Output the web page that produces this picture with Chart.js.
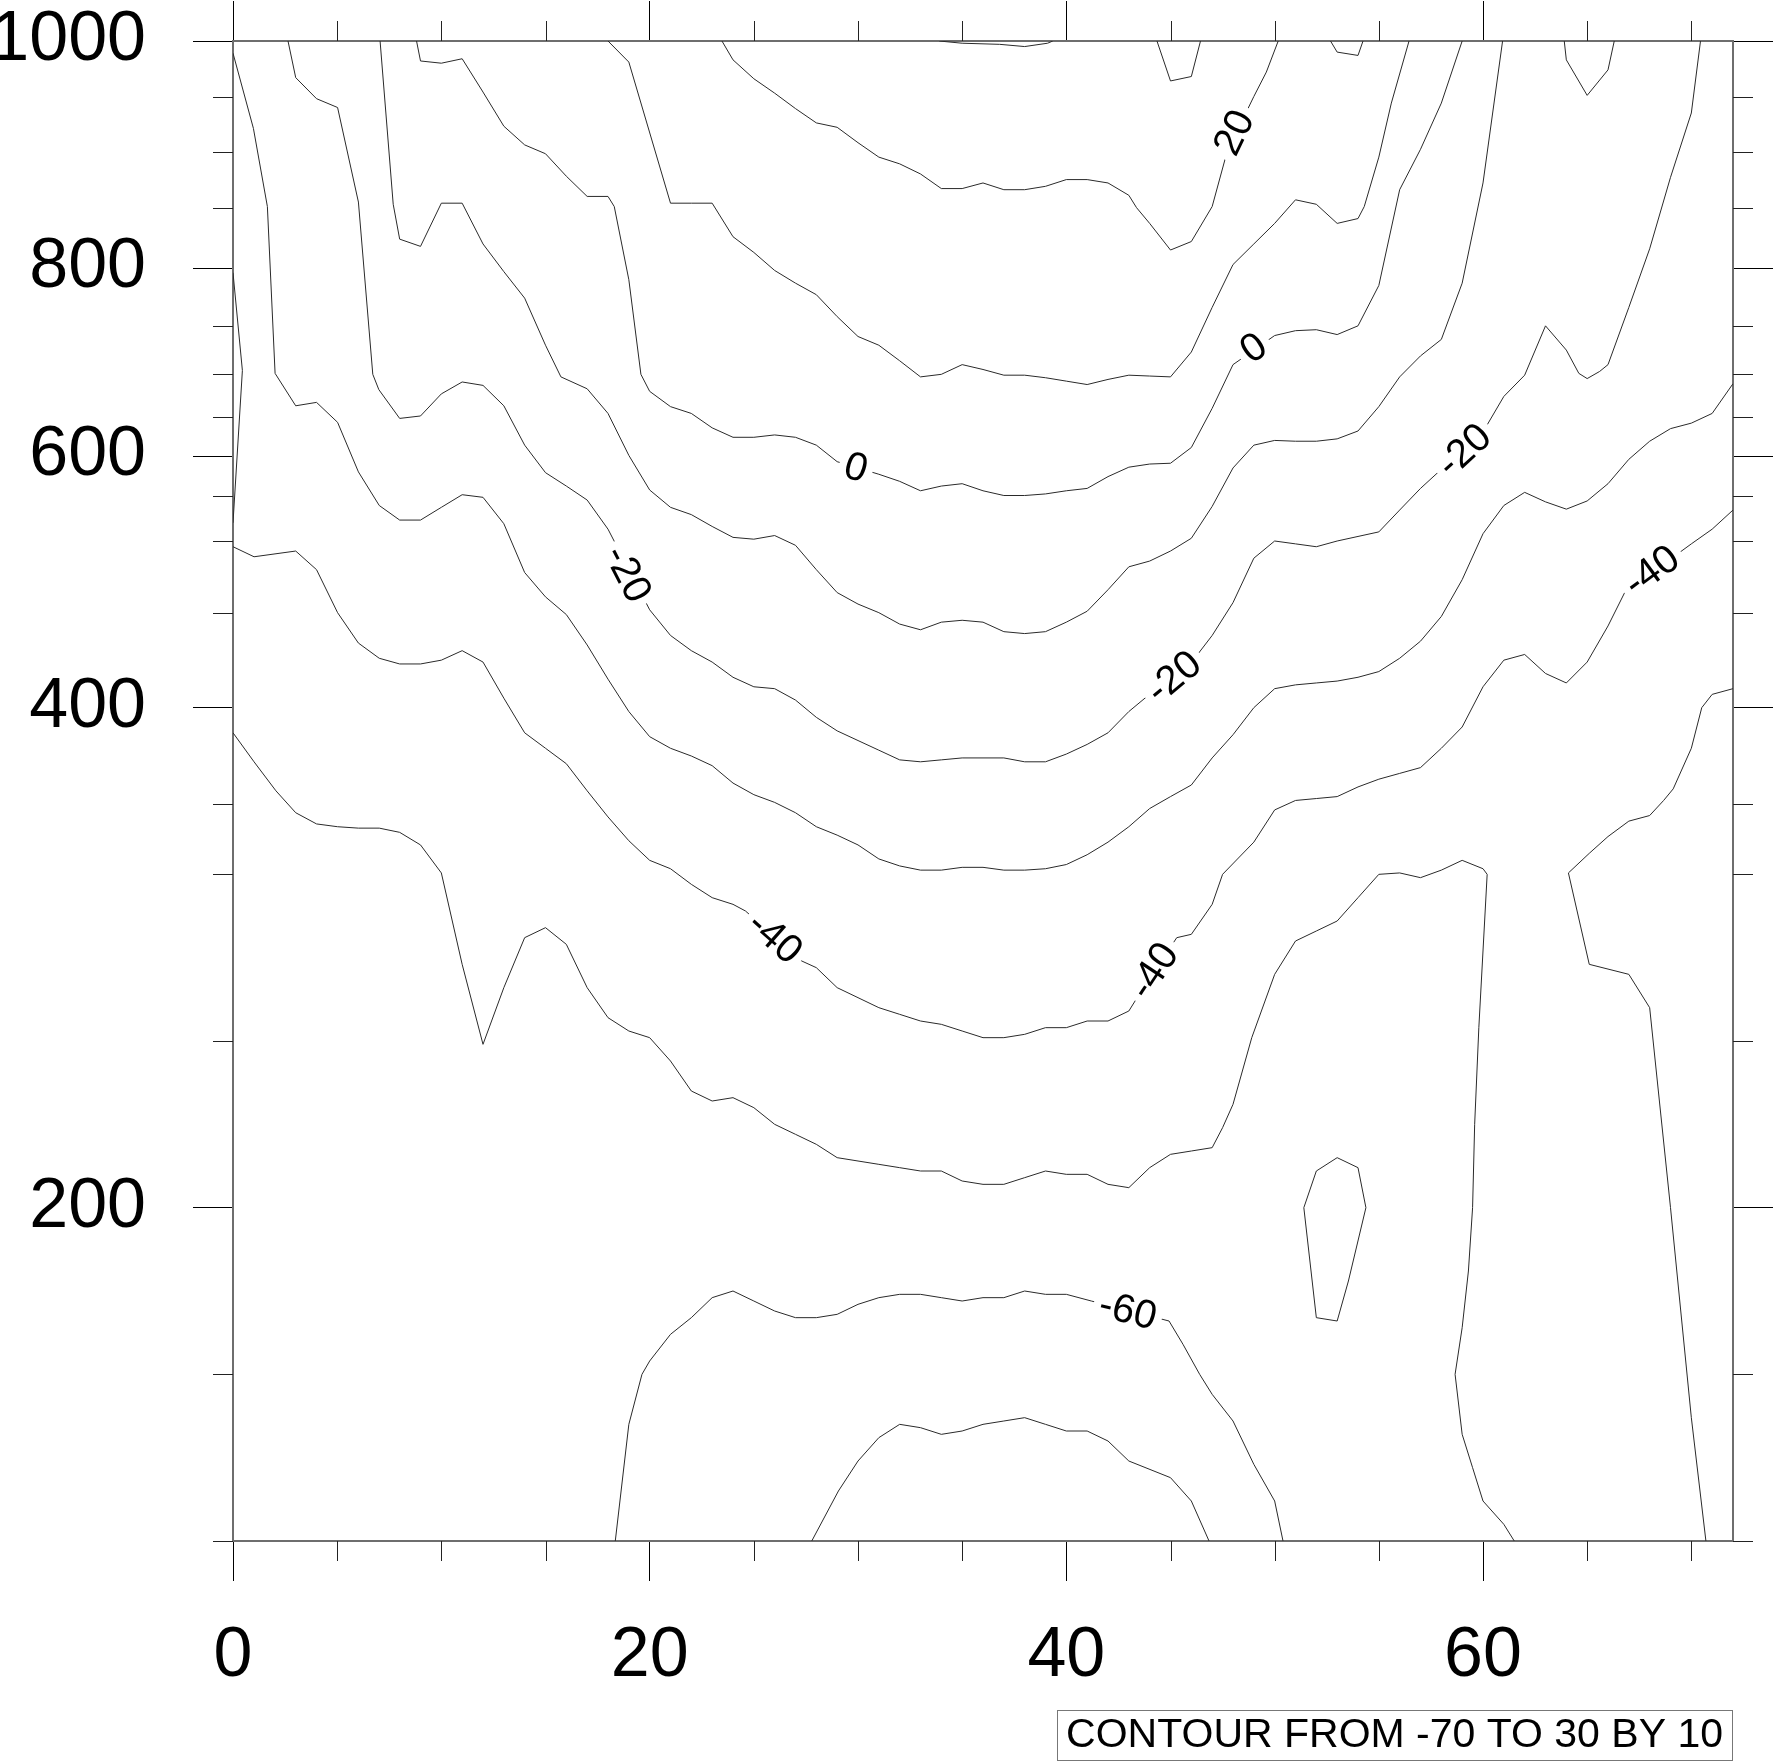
<!DOCTYPE html>
<html>
<head>
<meta charset="utf-8">
<script src="https://cdn.jsdelivr.net/npm/chart.js@4.4.1/dist/chart.umd.min.js"></script>
<style>html,body{margin:0;padding:0;background:#fff}canvas{display:block}</style>
</head>
<body>
<canvas id="c" width="1774" height="1763"></canvas>
<script>
// ---------------- axis definitions ----------------
const xTickValues = [0,5,10,15,20,25,30,35,40,45,50,55,60,65,70];
const xLabelValues = [0,20,40,60];
const xMin = 0, xMax = 72;
const pTickValues = [1000,950,900,850,800,750,700,650,600,550,500,450,400,350,300,250,200,150,100];
const pLabelValues = [1000,800,600,400,200];
// irregular pressure axis: position of each pressure in data-level index units (levels 1000,850,700,500,400,300,250,200,150,100)
const axisPressure = [1000,950,900,850,800,750,700,650,600,550,500,450,400,350,300,250,200,150,100];
const axisLevelIndex = [0,0.333,0.663,1,1.363,1.709,2,2.255,2.491,2.727,3,3.43,4,4.58,5,6,7,8,9];
const contourMin = -70, contourMax = 30, contourStep = 10;

// ---------------- contour lines (x, pressure hPa) ----------------
const t30x = [33.9,35,36.8,38,39.1,39.35];
const t30p = [1000,998,997,995,998,1000];

const t20x = [23.47,24,25,26,27,28,29,30,31,32,33,34,35,36,37,38,39,40,41,42,43,43.37,44,45,46,47,47.72,49,49.6,50.17];
const t20p = [1000,983,966,953,939,926,922,908,895,889,880,867,867,872,866,866,869,875,875,872,861,850,837,815,822,851,900,950,972,1000];
const t20bx = [44.35,45,46,46.44];
const t20bp = [1000,964,968,1000];

const t10x = [18,19,21,22,23,24,25,26,27,28,29,30,31,32,33,34,35,36,37,38,39,40,41,42,43,44,45,46,47,48,49,50,51,52,53,54,54.3,55,55.6,56.45];
const t10p = [1000,981,854,854,854,826,813,798,787,777,758,739,730,714,697,700,710,705,699,699,696,692,688,694,699,698,697,723,766,803,820,837,857,853,837,841,851,895,944,1000];
const t10bx = [52.68,53,54,54.24];
const t10bp = [1000,990,987,1000];

const t0x = [8.81,9,10,11,12,13,14,15,16,17,18,18.3,19,19.58,20,21,22,23,24,25,26,27,28,29,31,32,33,34,35,36,37,38,39,40,41,42,43,44,45,46,47,48,50,51,52,53,54,55,56,57,58,59];
const t0p = [1000,982,980,984,954,923,906,898,878,860,860,851,790,700,680,662,654,636,624,624,627,624,614,593,577,568,556,562,565,556,550,550,552,556,559,574,586,590,591,611,660,710,740,745,746,741,750,785,866,902,944,1000];

const tm10x = [7.06,7.69,8,9,10,11,12,13,14,15,15.74,17,18,19,20,21,22,23,24,25,26,27,28,29,30,31,32,33,34,35,36,37,38,39,40,41,42,43,44,45,46,47,48,49,50,51,52,53,54,55,56,57,58,59,60,60.94];
const tm10p = [1000,853,824,818,854,854,820,797,774,730,697,683,654,601,557,537,529,516,504,502,506,497,480,464,456,450,444,441,445,446,445,440,439,440,445,451,466,482,486,493,503,538,585,614,620,619,619,622,632,662,697,719,736,787,872,1000];

const tm20x = [2.64,3.01,4.01,5.02,6.02,6.71,7,8,9,10,11,12,13,14,15,16,17,18,20,21,22,23,24,25,26,27,28,29,30,31,32,33,34,35,36,37,38,39,40,41,42,43,46.3,47,48,49,50,51,52,53,54,55,56,57,60.05,61,62,63,64,64.6,65,65.6,66,67,68,69,70,70.44];
const tm20p = [1000,967,948,940,855,700,682,648,651,677,691,687,663,614,579,562,545,513,452,438,430,424,416,411,410,404,395,388,383,378,373,372,373,374,374,374,372,372,376,381,387,398,428,438,457,488,500,498,496,500,505,510,534,559,633,674,699,750,725,701,695,703,710,766,816,877,935,1000];
const tm20bx = [63.9,64,65,66,66.3];
const tm20bp = [1000,983,951,974,1000];

const tm30x = [0,0.98,1.65,2.02,3.01,4.01,5.02,6.02,7.02,8,9,10,11,12,13,14,15,16,17,18,19,20,21,22,23,24,25,26,27,28,29,30,31,32,33,34,35,36,37,38,39,40,41,42,43,44,45,46,47,48,49,50,51,52,53,54,55,56,57,58,59,60,61,62,63,64,65,66,67,68,69,70,71,72];
const tm30p = [989,921,851,701,663,667,643,580,539,523,523,537,551,548,519,478,461,449,433,415,398,385,379,375,370,361,355,351,344,334,328,321,311,306,303,303,305,305,303,303,304,307,314,323,334,347,354,360,374,386,400,410,412,413,414,416,419,426,435,448,473,508,539,554,543,535,544,565,596,619,635,642,654,689];

const tm40x = [0,1.01,3.01,4.01,5.02,6.02,7.02,8,9,10,11,12,13,14,15,16,17,18,19,20,21,22,23,24,24.6,27.3,28,29,30,31,32,33,34,35,36,37,38,39,40,41,42,43,43.4,45.3,46,47,47.5,49,50,51,52,53,54,55,56,57,58,59,60,61,62,63,64,65,66,66.8,70,71,72];
const tm40p = [496,489,493,480,450,434,426,423,423,425,430,424,405,387,379,371,357,341,324,310,304,297,293,291,289,274,272,266,263,260,258,256,255,253,251,251,252,254,254,256,256,259,263,281,282,291,300,323,346,352,353,354,359,363,366,369,379,390,411,425,428,418,413,424,443,464,498,513,534];
const tm40bx = [0,0.45,0];
const tm40bp = [796,704,520];

const tm50x = [0,1.01,2.06,3.01,4.01,5.02,6.02,7.02,8,9,10,11,12,13,14,15,16,17,18,19,20,21,22,23,24,25,26,27,28,29,30,31,32,33,34,35,36,37,38,39,40,41,42,43,44,45,46,47,47.5,48,48.9,50,51,52,53,54,55,56,57,58,59,60,60.2,59.8,59.6,59.5,59.3,59,58.66,59,59.5,60,61,61.5];
const tm50p = [387,372,357,344,336,334,333,333,330,321,301,273,249,266,281,284,279,266,257,253,251,244,235,232,233,230,225,222,219,215,214,213,212,211,211,208,207,207,209,211,210,210,207,206,212,216,217,218,224,231,251,270,280,283,286,293,300,301,299,303,310,304,300,254,225,200,181,164,150,132,122,112,105,100];
const tm50bx = [72,71,70.5,70,69.13,68.67,68,67,66,65.1,64.1,65.1,67,68,69,70,70.7];
const tm50bp = [410,407,400,379,358,352,342,338,327,315,301,273,270,260,200,137,100];
const tm50cx = [52,53,54,54.38,53.54,53,52,51.4,52];
const tm50cp = [211,215,212,200,178,166,167,200,211];

const tm60x = [18.35,19,19.63,20,21,22,23,24,25,26,27,28,29,30,31,32,33,34,35,36,37,38,39,40,41.2,44.93,45.6,46.4,47,48,49,50,50.4];
const tm60p = [100,135,150,154,162,167,173,175,172,169,167,167,168,171,173,174,174,173,172,173,173,175,174,174,172,166,159,150,144,136,123,112,100];

const tm70x = [27.78,29.06,30,31,32,33,34,35,36,37,38,39,40,41,42,43,45,46,46.85];
const tm70p = [100,115,124,131,135,134,132,133,135,136,137,135,133,133,130,124,119,112,100];

// ---------------- line labels ----------------
const labelLevels = [20,0,0,-20,-20,-20,-40,-40,-40,-60];
const labelX = [48.07,29.9,49.0,18.93,45.16,59.1,26.0,44.2,68.1,42.95];
const labelP = [917,585,727,477,416,607,281,271,479,169];

// ---------------- build ----------------
const contours = [
  {level:30, x:t30x, p:t30p},
  {level:20, x:t20x, p:t20p, main:true},
  {level:20, x:t20bx, p:t20bp},
  {level:10, x:t10x, p:t10p, main:true},
  {level:10, x:t10bx, p:t10bp},
  {level:0, x:t0x, p:t0p, main:true},
  {level:-10, x:tm10x, p:tm10p, main:true},
  {level:-20, x:tm20x, p:tm20p, main:true},
  {level:-20, x:tm20bx, p:tm20bp},
  {level:-30, x:tm30x, p:tm30p, main:true},
  {level:-40, x:tm40x, p:tm40p, main:true},
  {level:-40, x:tm40bx, p:tm40bp},
  {level:-50, x:tm50x, p:tm50p, main:true},
  {level:-50, x:tm50bx, p:tm50bp},
  {level:-50, x:tm50cx, p:tm50cp},
  {level:-60, x:tm60x, p:tm60p, main:true},
  {level:-70, x:tm70x, p:tm70p, main:true}
];

const FONT = '"Liberation Sans", Arial, Helvetica, sans-serif';
const maxLevelIndex = axisLevelIndex[axisLevelIndex.length - 1];

function pressureToIndex(p) {
  const n = axisPressure.length;
  let i = 0;
  if (p >= axisPressure[0]) i = 0;
  else if (p <= axisPressure[n - 1]) i = n - 2;
  else { while (i < n - 2 && p < axisPressure[i + 1]) i++; }
  const p0 = axisPressure[i], p1 = axisPressure[i + 1];
  const a0 = axisLevelIndex[i], a1 = axisLevelIndex[i + 1];
  return a0 + (p0 - p) / (p0 - p1) * (a1 - a0);
}
function indexToPressure(idx) {
  const n = axisLevelIndex.length;
  let i = 0;
  if (idx <= 0) i = 0;
  else if (idx >= axisLevelIndex[n - 1]) i = n - 2;
  else { while (i < n - 2 && idx > axisLevelIndex[i + 1]) i++; }
  const a0 = axisLevelIndex[i], a1 = axisLevelIndex[i + 1];
  const p0 = axisPressure[i], p1 = axisPressure[i + 1];
  return p0 + (idx - a0) / (a1 - a0) * (p1 - p0);
}

class PressureScale extends Chart.LinearScale {
  getPixelForValue(value) {
    if (value === null || value === undefined || isNaN(value)) return NaN;
    return this.top + pressureToIndex(value) / maxLevelIndex * (this.bottom - this.top);
  }
  getValueForPixel(pixel) {
    return indexToPressure((pixel - this.top) / (this.bottom - this.top) * maxLevelIndex);
  }
}
PressureScale.id = 'pressureAxis';
PressureScale.defaults = Chart.LinearScale.defaults;
Chart.register(PressureScale);

const datasets = contours.map(c => ({
  label: String(c.level),
  data: c.x.map((v, i) => ({x: v, y: c.p[i]})),
  showLine: true,
  pointRadius: 0,
  borderColor: '#2a2a2a',
  borderWidth: 1,
  tension: 0,
  fill: false,
  xAxisID: 'x',
  yAxisID: 'y'
}));

const frameBorder = {display: true, color: '#6e6e6e', width: 2};
const xGrid = {display: true, drawOnChartArea: false, drawTicks: true, tickLength: 40, tickWidth: 1,
  tickColor: ctx => (ctx.tick && xLabelValues.includes(ctx.tick.value)) ? '#000' : 'rgba(0,0,0,0)'};
const yGrid = {display: true, drawOnChartArea: false, drawTicks: true, tickLength: 40, tickWidth: 1,
  tickColor: ctx => (ctx.tick && pLabelValues.includes(ctx.tick.value)) ? '#000' : 'rgba(0,0,0,0)'};
const setXTicks = s => { s.ticks = xTickValues.map(v => ({value: v})); };
const setPTicks = s => { s.ticks = pTickValues.map(v => ({value: v})); };
const noPad = s => { s.paddingTop = 0; s.paddingBottom = 0; s.paddingLeft = 0; s.paddingRight = 0; };

const minorTicksPlugin = {
  id: 'minorTicks',
  afterDraw(chart) {
    const ctx = chart.ctx, a = chart.chartArea;
    const xs = chart.scales.x, ys = chart.scales.y;
    ctx.save();
    ctx.strokeStyle = '#222';
    ctx.lineWidth = 1;
    ctx.beginPath();
    xTickValues.filter(v => !xLabelValues.includes(v)).forEach(v => {
      const px = Math.round(xs.getPixelForValue(v)) + 0.5;
      ctx.moveTo(px, a.bottom); ctx.lineTo(px, a.bottom + 20);
      ctx.moveTo(px, a.top); ctx.lineTo(px, a.top - 20);
    });
    pTickValues.filter(v => !pLabelValues.includes(v)).forEach(v => {
      const py = Math.round(ys.getPixelForValue(v)) + 0.5;
      ctx.moveTo(a.left, py); ctx.lineTo(a.left - 20, py);
      ctx.moveTo(a.right, py); ctx.lineTo(a.right + 20, py);
    });
    ctx.stroke();
    ctx.restore();

    // info label box
    const text = 'CONTOUR FROM ' + contourMin + ' TO ' + contourMax + ' BY ' + contourStep;
    ctx.save();
    ctx.font = '41px ' + FONT;
    const w = ctx.measureText(text).width;
    const right = a.right - 1, left = right - w - 18;
    const top = a.bottom + 169, h = 50;
    ctx.strokeStyle = '#777';
    ctx.lineWidth = 1;
    ctx.strokeRect(Math.round(left) + 0.5, top + 0.5, Math.round(right - left), h);
    ctx.fillStyle = '#000';
    ctx.textBaseline = 'middle';
    ctx.textAlign = 'left';
    ctx.fillText(text, left + 9, top + h / 2 + 1);
    ctx.restore();
  }
};

const lineLabelPlugin = {
  id: 'lineLabels',
  afterDatasetsDraw(chart) {
    const ctx = chart.ctx;
    const xs = chart.scales.x, ys = chart.scales.y;
    ctx.save();
    ctx.font = '40px ' + FONT;
    labelLevels.forEach((lev, k) => {
      const c = contours.find(cc => cc.level === lev && cc.main);
      const px = xs.getPixelForValue(labelX[k]);
      const py = ys.getPixelForValue(labelP[k]);
      let best = Infinity, ang = 0;
      for (let i = 0; i < c.x.length - 1; i++) {
        const x1 = xs.getPixelForValue(c.x[i]), y1 = ys.getPixelForValue(c.p[i]);
        const x2 = xs.getPixelForValue(c.x[i + 1]), y2 = ys.getPixelForValue(c.p[i + 1]);
        const dx = x2 - x1, dy = y2 - y1;
        const L2 = dx * dx + dy * dy || 1;
        let t = ((px - x1) * dx + (py - y1) * dy) / L2;
        t = Math.max(0, Math.min(1, t));
        const qx = x1 + t * dx, qy = y1 + t * dy;
        const d = (qx - px) ** 2 + (qy - py) ** 2;
        if (d < best) { best = d; ang = Math.atan2(dy, dx); }
      }
      if (ang > Math.PI / 2) ang -= Math.PI;
      if (ang < -Math.PI / 2) ang += Math.PI;
      const txt = String(lev);
      const tw = ctx.measureText(txt).width;
      ctx.save();
      ctx.translate(px, py);
      ctx.rotate(ang);
      ctx.fillStyle = '#fff';
      ctx.fillRect(-tw / 2 - 6, -19, tw + 12, 38);
      ctx.fillStyle = '#000';
      ctx.textAlign = 'center';
      ctx.textBaseline = 'middle';
      ctx.fillText(txt, 0, 1);
      ctx.restore();
    });
    ctx.restore();
  }
};

new Chart(document.getElementById('c'), {
  type: 'scatter',
  data: {datasets},
  options: {
    responsive: false,
    devicePixelRatio: 1,
    animation: false,
    events: [],
    layout: {padding: 0},
    plugins: {legend: {display: false}, tooltip: {enabled: false}, title: {display: false}},
    scales: {
      x: {
        type: 'linear', position: 'bottom', min: xMin, max: xMax, bounds: 'data',
        afterBuildTicks: setXTicks,
        afterFit: s => { s.height = 222; noPad(s); },
        grid: xGrid, border: frameBorder,
        ticks: {autoSkip: false, maxRotation: 0, minRotation: 0, padding: 34, color: '#000',
          font: {family: FONT, size: 70},
          callback: v => xLabelValues.includes(v) ? String(v) : ''}
      },
      xTop: {
        type: 'linear', position: 'top', min: xMin, max: xMax, bounds: 'data',
        afterBuildTicks: setXTicks,
        afterFit: s => { s.height = 41; noPad(s); },
        grid: xGrid, border: frameBorder,
        ticks: {display: false, autoSkip: false}
      },
      y: {
        type: 'pressureAxis', position: 'left', min: 100, max: 1000, bounds: 'data',
        afterBuildTicks: setPTicks,
        afterFit: s => { s.width = 233; noPad(s); },
        grid: yGrid, border: frameBorder,
        ticks: {autoSkip: false, padding: 47, color: '#000',
          font: {family: FONT, size: 70},
          callback: v => pLabelValues.includes(v) ? String(v) : ''}
      },
      yRight: {
        type: 'pressureAxis', position: 'right', min: 100, max: 1000, bounds: 'data',
        afterBuildTicks: setPTicks,
        afterFit: s => { s.width = 41; noPad(s); },
        grid: yGrid, border: frameBorder,
        ticks: {display: false, autoSkip: false}
      }
    }
  },
  plugins: [lineLabelPlugin, minorTicksPlugin]
});
</script>
</body>
</html>
